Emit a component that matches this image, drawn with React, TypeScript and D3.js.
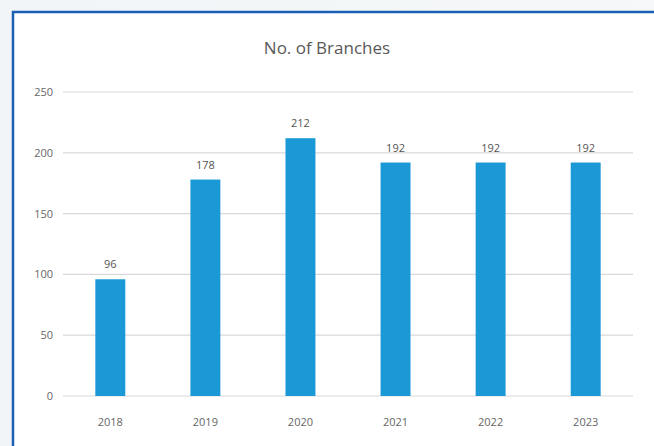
import React from "react";
import * as d3 from "d3";

const years = ["2018", "2019", "2020", "2021", "2022", "2023"];
const branches = [96, 178, 212, 192, 192, 192];
const yTicks = [0, 50, 100, 150, 200, 250];
const title = "No. of Branches";

export default function App() {
  const W = 654, H = 446;
  const left = 63, right = 633, top = 92, bottom = 396;
  const x = d3.scaleBand<string>().domain(years).range([left, right]).paddingInner(0.685).paddingOuter(0.34);
  const y = d3.scaleLinear().domain([0, 250]).range([bottom, top]);
  const font = "'Open Sans', 'Noto Sans', sans-serif";
  return (
    <svg width={W} height={H} style={{ position: "fixed", left: 0, top: 0 }}>
      <defs>
        <linearGradient id="bg" x1="0" x2="1" y1="0" y2="0">
          <stop offset="0" stopColor="#f1f5f7" />
          <stop offset="1" stopColor="#f6f8f9" />
        </linearGradient>
      </defs>
      <rect x={0} y={0} width={W} height={H} fill="url(#bg)" />
      <rect x={13} y={12} width={W} height={H} fill="#ffffff" stroke="#1a5fb4" strokeWidth={2.5} />
      <text x={327} y={54} textAnchor="middle" fontFamily={font} fontSize={17} fill="#595959">{title}</text>
      {yTicks.map((t) => (
        <g key={t}>
          <line x1={left} x2={right} y1={y(t)} y2={y(t)} stroke="#d9d9d9" strokeWidth={1.2} />
          <text x={53} y={y(t) + 4} textAnchor="end" fontFamily={font} fontSize={11} fill="#666">{t}</text>
        </g>
      ))}
      {years.map((yr, i) => (
        <g key={yr}>
          <rect x={x(yr)} y={y(branches[i])} width={x.bandwidth()} height={bottom - y(branches[i])} fill="#1b98d6" />
          <text x={(x(yr) ?? 0) + x.bandwidth() / 2} y={y(branches[i]) - 11} textAnchor="middle" fontFamily={font} fontSize={11} fill="#555">{branches[i]}</text>
          <text x={(x(yr) ?? 0) + x.bandwidth() / 2} y={426} textAnchor="middle" fontFamily={font} fontSize={11} fill="#666">{yr}</text>
        </g>
      ))}
    </svg>
  );
}
